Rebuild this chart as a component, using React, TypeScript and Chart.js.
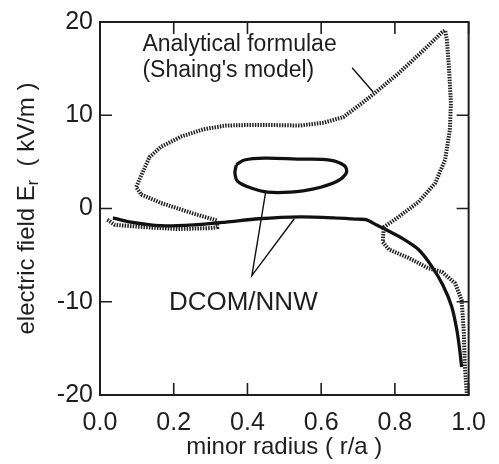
import React, { useEffect, useRef } from 'react';
import { Chart, registerables } from 'chart.js';
Chart.register(...registerables);

const FONT = '"Liberation Sans", Arial, sans-serif';
const INK = '#1e1e1e';

const xTicks = [0, 0.2, 0.4, 0.6, 0.8, 1.0];
const xTickLabels = ['0.0', '0.2', '0.4', '0.6', '0.8', '1.0'];
const yTicks = [-20, -10, 0, 10, 20];
const yTickLabels = ['-20', '-10', '0', '10', '20'];

// Analytical formulae (Shaing's model) — dotted curve, one continuous path
const shaingX = [0.020, 0.040, 0.120, 0.210, 0.300, 0.318, 0.318, 0.250, 0.165, 0.112, 0.098, 0.115, 0.134, 0.165, 0.219, 0.281, 0.342, 0.400, 0.468, 0.543, 0.607, 0.660, 0.714, 0.749, 0.810, 0.873, 0.928, 0.936, 0.941, 0.947, 0.952, 0.949, 0.936, 0.909, 0.864, 0.810, 0.770, 0.767, 0.784, 0.837, 0.890, 0.928, 0.963, 0.981, 0.987, 0.990, 0.995];
const shaingY = [-1.2, -1.75, -2.0, -2.2, -2.1, -2.0, -1.3, -0.5, 0.6, 1.5, 2.3, 3.8, 5.5, 6.6, 7.7, 8.5, 8.9, 8.95, 8.95, 8.9, 9.2, 9.8, 11.4, 12.5, 14.5, 16.8, 18.9, 19.1, 18.1, 14.9, 11.3, 8.4, 5.2, 2.7, 0.7, -0.9, -2.0, -3.6, -4.4, -5.3, -6.4, -6.8, -8.0, -9.8, -13.3, -17.0, -19.8];

// DCOM/NNW — main solid curve
const dcomX = [0.035, 0.075, 0.165, 0.254, 0.342, 0.430, 0.543, 0.634, 0.700, 0.722, 0.749, 0.767, 0.820, 0.864, 0.900, 0.930, 0.954, 0.968, 0.976, 0.981];
const dcomY = [-1.0, -1.4, -1.85, -1.75, -1.45, -1.1, -0.9, -1.0, -1.15, -1.2, -1.75, -2.1, -3.2, -4.4, -6.2, -8.2, -10.5, -13.0, -15.2, -17.0];

// DCOM/NNW — closed loop
const loopX = [0.370, 0.392, 0.446, 0.535, 0.623, 0.663, 0.668, 0.642, 0.580, 0.516, 0.455, 0.410, 0.374, 0.366, 0.370];
const loopY = [4.7, 5.2, 5.4, 5.3, 5.2, 4.6, 3.8, 2.9, 2.1, 1.75, 1.75, 2.2, 2.9, 3.8, 4.7];

// pointer lines (data coordinates)
const shaingPointerX = [0.684, 0.741];
const shaingPointerY = [15.1, 12.5];
const dcomPointerX = [0.449, 0.412, 0.527];
const dcomPointerY = [1.67, -7.2, -1.1];

// annotation texts (anchored in data coordinates)
const labelShaing1 = { text: 'Analytical formulae', x: 0.115, y: 16.9 };
const labelShaing2 = { text: "(Shaing's model)", x: 0.115, y: 14.1 };
const labelDcom = { text: 'DCOM/NNW', x: 0.187, y: -10.1 };

const pts = (xs: number[], ys: number[]) => xs.map((x, i) => ({ x, y: ys[i] }));

const framePlugin = {
  id: 'frame',
  afterDatasetsDraw(chart: any) {
    const { ctx, chartArea: a, scales } = chart;
    const xs = scales.x, ys = scales.y;
    ctx.save();
    ctx.strokeStyle = INK;
    ctx.lineWidth = 2;
    ctx.strokeRect(a.left, a.top, a.right - a.left, a.bottom - a.top);
    ctx.lineWidth = 1.6;
    const tl = 12;
    xTicks.forEach((v) => {
      const px = xs.getPixelForValue(v);
      ctx.beginPath();
      ctx.moveTo(px, a.bottom); ctx.lineTo(px, a.bottom - tl);
      ctx.moveTo(px, a.top); ctx.lineTo(px, a.top + tl);
      ctx.stroke();
    });
    yTicks.forEach((v) => {
      const py = ys.getPixelForValue(v);
      ctx.beginPath();
      ctx.moveTo(a.left, py); ctx.lineTo(a.left + tl, py);
      ctx.moveTo(a.right, py); ctx.lineTo(a.right - tl, py);
      ctx.stroke();
    });

    // annotation texts
    ctx.fillStyle = INK;
    ctx.textAlign = 'left';
    ctx.textBaseline = 'alphabetic';
    ctx.font = `23px ${FONT}`;
    [labelShaing1, labelShaing2].forEach((l) => {
      ctx.fillText(l.text, xs.getPixelForValue(l.x), ys.getPixelForValue(l.y));
    });
    ctx.textBaseline = 'middle';
    ctx.font = `26px ${FONT}`;
    ctx.fillText(labelDcom.text, xs.getPixelForValue(labelDcom.x), ys.getPixelForValue(labelDcom.y));

    // y-axis title with subscript
    const cy = (a.top + a.bottom) / 2;
    ctx.translate(27, cy);
    ctx.rotate(-Math.PI / 2);
    const big = `24px ${FONT}`, small = `16px ${FONT}`;
    const p1 = 'electric field E', p2 = 'r', p3 = '  ( kV/m )';
    ctx.font = big; const w1 = ctx.measureText(p1).width; const w3 = ctx.measureText(p3).width;
    ctx.font = small; const w2 = ctx.measureText(p2).width;
    let x0 = -(w1 + w2 + w3) / 2;
    ctx.textBaseline = 'middle';
    ctx.font = big; ctx.fillText(p1, x0, 0); x0 += w1;
    ctx.font = small; ctx.fillText(p2, x0, 7); x0 += w2;
    ctx.font = big; ctx.fillText(p3, x0, 0);
    ctx.restore();
  },
};

export default function App() {
  const ref = useRef<HTMLCanvasElement | null>(null);
  useEffect(() => {
    const chart = new Chart(ref.current as HTMLCanvasElement, {
      type: 'scatter',
      data: {
        datasets: [
          {
            data: pts(shaingX, shaingY), showLine: true, pointRadius: 0,
            borderColor: '#222', borderWidth: 4, borderDash: [1.5, 1.2], tension: 0, clip: 6,
          },
          {
            data: pts(dcomX, dcomY), showLine: true, pointRadius: 0,
            borderColor: '#111', borderWidth: 3.3, tension: 0.25, clip: 6,
          },
          {
            data: pts(loopX, loopY), showLine: true, pointRadius: 0,
            borderColor: '#111', borderWidth: 3.3, tension: 0.35, clip: 6,
          },
          {
            data: pts(shaingPointerX, shaingPointerY), showLine: true, pointRadius: 0,
            borderColor: '#111', borderWidth: 1.4, tension: 0,
          },
          {
            data: pts(dcomPointerX, dcomPointerY), showLine: true, pointRadius: 0,
            borderColor: '#111', borderWidth: 1.4, tension: 0,
          },
        ],
      } as any,
      options: {
        responsive: false,
        animation: false,
        devicePixelRatio: 1,
        layout: { padding: { top: 22, right: 25, left: 0, bottom: 0 } },
        plugins: { legend: { display: false }, tooltip: { enabled: false } },
        scales: {
          x: {
            type: 'linear', min: 0, max: 1,
            afterBuildTicks: (s: any) => { s.ticks = xTicks.map((v) => ({ value: v })); },
            afterFit: (s: any) => { s.height = 69; },
            grid: { display: false, drawTicks: false },
            border: { display: false },
            ticks: {
              padding: 13, color: INK, font: { family: FONT, size: 25 }, maxRotation: 0, autoSkip: false,
              callback: (_v: any, i: number) => xTickLabels[i],
            },
            title: {
              display: true, text: 'minor radius ( r/a )', color: INK,
              font: { family: FONT, size: 24 }, padding: { top: 0, bottom: 2 },
            },
          },
          y: {
            type: 'linear', min: -20, max: 20,
            afterBuildTicks: (s: any) => { s.ticks = yTicks.map((v) => ({ value: v })); },
            afterFit: (s: any) => { s.width = 100; },
            grid: { display: false, drawTicks: false },
            border: { display: false },
            ticks: {
              padding: 7, color: INK, font: { family: FONT, size: 25 }, autoSkip: false,
              callback: (_v: any, i: number) => yTickLabels[i],
            },
          },
        },
      } as any,
      plugins: [framePlugin],
    });
    return () => chart.destroy();
  }, []);
  return (
    <div style={{ position: 'absolute', left: 0, top: 0, width: 499, height: 464, background: '#fff' }}>
      <canvas ref={ref} width={499} height={464} style={{ display: 'block' }} />
    </div>
  );
}
